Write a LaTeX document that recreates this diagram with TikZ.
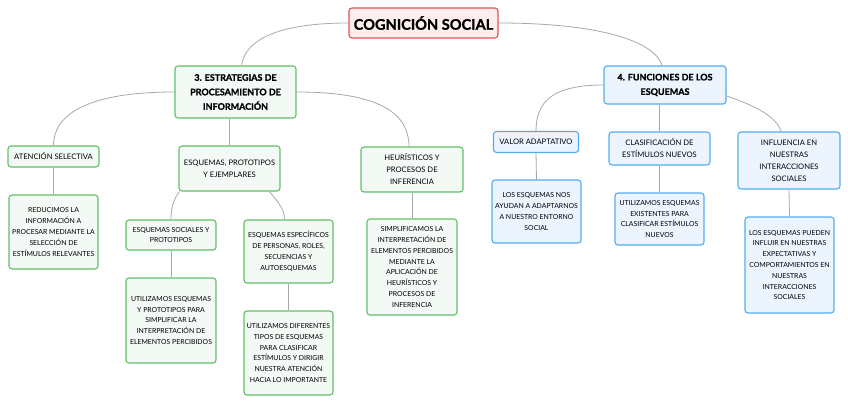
\documentclass[tikz,border=0pt]{standalone}
\usepackage{fontspec}
\setmainfont{Lato}
\newfontfamily\heavyfont{Lato}[BoldFeatures={FakeBold=1.2}]
\usetikzlibrary{positioning}
\definecolor{rootred}{RGB}{228,82,82}
\definecolor{rootfill}{RGB}{253,238,238}
\definecolor{mapgreen}{RGB}{98,192,104}
\definecolor{greenfill}{RGB}{243,249,244}
\definecolor{mapblue}{RGB}{82,172,242}
\definecolor{bluefill}{RGB}{236,245,255}
\definecolor{linegray}{RGB}{168,168,168}

\begin{document}
\begin{tikzpicture}[x=1pt, y=-1pt,
				box/.style={draw, rounded corners=3pt, line width=1.1pt, align=center, inner sep=0pt,
					font=\fontsize{6.9}{10.8}\selectfont},
				gbox/.style={box, draw=mapgreen, fill=greenfill},
				bbox/.style={box, draw=mapblue, fill=bluefill},
				gtitle/.style={gbox, font=\fontsize{7.6}{12}\selectfont},
				btitle/.style={bbox, font=\fontsize{7.6}{12}\selectfont},
				head/.style={box, font=\heavyfont\bfseries\fontsize{9}{14.5}\selectfont},
				link/.style={draw=linegray, line width=0.8pt}]
				% Rahmen
				\useasboundingbox (0,0) rectangle (848,404);
				% Wurzel
				\node[box, draw=rootred, fill=rootfill, minimum width=149, minimum height=30,
					font=\heavyfont\bfseries\fontsize{14.6}{16}\selectfont] (root) at (423.5,23) {COGNICIÓN SOCIAL};
				% Hauptzweige
				\node[head, draw=mapgreen, fill=greenfill, minimum width=121, minimum height=52] (estr) at (235.5,92)
					{3. ESTRATEGIAS DE\\PROCESAMIENTO DE\\INFORMACIÓN};
				\node[head, draw=mapblue, fill=bluefill, minimum width=122, minimum height=38] (func) at (665,85)
					{4. FUNCIONES DE LOS\\ESQUEMAS};
				% Zweig 3
				\node[gtitle, minimum width=91, minimum height=21] (aten) at (53.5,156.5) {ATENCIÓN SELECTIVA};
				\node[gtitle, minimum width=101, minimum height=45] (esq) at (229.5,168.5) {ESQUEMAS, PROTOTIPOS\\Y EJEMPLARES};
				\node[gtitle, minimum width=102, minimum height=45] (heur) at (412,169.5) {HEURÍSTICOS Y\\PROCESOS DE\\INFERENCIA};
				\node[gbox, minimum width=89, minimum height=74] (reduc) at (53.5,232)
					{REDUCIMOS LA\\INFORMACIÓN A\\PROCESAR MEDIANTE LA\\SELECCIÓN DE\\ESTÍMULOS RELEVANTES};
				\node[gbox, minimum width=90, minimum height=30] (soc) at (171,235) {ESQUEMAS SOCIALES Y\\PROTOTIPOS};
				\node[gbox, minimum width=89, minimum height=63] (espec) at (288.5,251.5)
					{ESQUEMAS ESPECÍFICOS\\DE PERSONAS, ROLES,\\SECUENCIAS Y\\AUTOESQUEMAS};
				\node[gbox, minimum width=90, minimum height=96] (simpl) at (412,267)
					{SIMPLIFICAMOS LA\\INTERPRETACIÓN DE\\ELEMENTOS PERCIBIDOS\\MEDIANTE LA\\APLICACIÓN DE\\HEURÍSTICOS Y\\PROCESOS DE\\INFERENCIA};
				\node[gbox, minimum width=90, minimum height=85] (utproto) at (171,320.5)
					{UTILIZAMOS ESQUEMAS\\Y PROTOTIPOS PARA\\SIMPLIFICAR LA\\INTERPRETACIÓN DE\\ELEMENTOS PERCIBIDOS};
				\node[gbox, minimum width=89, minimum height=84] (utdif) at (288.5,353)
					{UTILIZAMOS DIFERENTES\\TIPOS DE ESQUEMAS\\PARA CLASIFICAR\\ESTÍMULOS Y DIRIGIR\\NUESTRA ATENCIÓN\\HACIA LO IMPORTANTE};
				% Zweig 4
				\node[btitle, minimum width=85, minimum height=21] (valor) at (536,142) {VALOR ADAPTATIVO};
				\node[btitle, minimum width=101, minimum height=33] (clas) at (659.5,148.5) {CLASIFICACIÓN DE\\ESTÍMULOS NUEVOS};
				\node[btitle, minimum width=102, minimum height=57] (infl) at (789,160.5)
					{INFLUENCIA EN\\NUESTRAS\\INTERACCIONES\\SOCIALES};
				\node[bbox, minimum width=89, minimum height=63] (ayudan) at (536.5,211.5)
					{LOS ESQUEMAS NOS\\AYUDAN A ADAPTARNOS\\A NUESTRO ENTORNO\\SOCIAL};
				\node[bbox, minimum width=89, minimum height=52] (exist) at (659.5,219)
					{UTILIZAMOS ESQUEMAS\\EXISTENTES PARA\\CLASIFICAR ESTÍMULOS\\NUEVOS};
				\node[bbox, minimum width=89, minimum height=96] (pueden) at (789.5,265)
					{LOS ESQUEMAS PUEDEN\\INFLUIR EN NUESTRAS\\EXPECTATIVAS Y\\COMPORTAMIENTOS EN\\NUESTRAS\\INTERACCIONES\\SOCIALES};
				% Verbindungen
				\draw[link] (root.west) .. controls +(-65,0) and +(4,-28) .. ([xshift=6]estr.north);
				\draw[link] (root.east) .. controls +(95,0) and +(-8,-26) .. ([xshift=-3]func.north);
				\draw[link] (estr.west) .. controls +(-85,0) and +(0,-32) .. (aten.north);
				\draw[link] (estr.east) .. controls +(85,0) and +(0,-32) .. ([xshift=-3]heur.north);
				\draw[link] (esq.north |- estr.south) -- (esq.north);
				\draw[link] ([xshift=-50]esq.south) .. controls +(-6,8) and +(0,-12) .. (soc.north);
				\draw[link] ([xshift=40]esq.south) .. controls +(6,8) and +(0,-12) .. ([xshift=-4]espec.north);
				\draw[link] (func.west) .. controls +(-50,0) and +(0,-30) .. (valor.north);
				\draw[link] (clas.north |- func.south) -- (clas.north);
				\draw[link] ([yshift=-11]func.east) .. controls +(30,10) and +(-4,-14) .. ([xshift=-8]infl.north);
				% Senkrechte Linien
				\foreach \a/\b in {aten/reduc, soc/utproto, espec/utdif, heur/simpl, valor/ayudan, clas/exist, infl/pueden}
					\draw[link] (\a.south) -- (\b.north);
			\end{tikzpicture}
\end{document}
